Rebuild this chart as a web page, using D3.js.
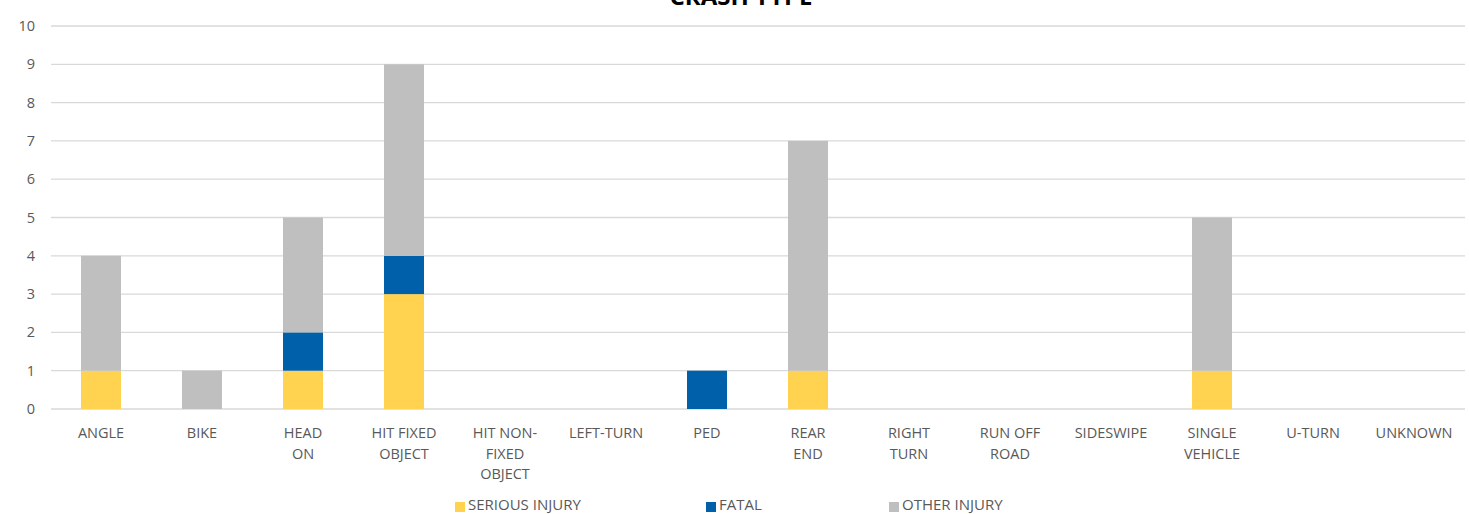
<!DOCTYPE html>
<html><head><meta charset="utf-8">
<script src="https://cdn.jsdelivr.net/npm/d3@7"></script>
<style>body{margin:0;background:#fff}svg{display:block}</style>
</head><body>
<script>
const categories = [["ANGLE"],["BIKE"],["HEAD","ON"],["HIT FIXED","OBJECT"],["HIT NON-","FIXED","OBJECT"],["LEFT-TURN"],["PED"],["REAR","END"],["RIGHT","TURN"],["RUN OFF","ROAD"],["SIDESWIPE"],["SINGLE","VEHICLE"],["U-TURN"],["UNKNOWN"]];
const seriousInjury = [1,0,1,3,0,0,0,1,0,0,0,1,0,0];
const fatal =         [0,0,1,1,0,0,1,0,0,0,0,0,0,0];
const otherInjury =   [3,1,3,5,0,0,0,6,0,0,0,4,0,0];
const seriesNames = ["SERIOUS INJURY","FATAL","OTHER INJURY"];
const colors = ["#FFD34F","#0061AA","#BFBFBF"];
const yTicks = [0,1,2,3,4,5,6,7,8,9,10];

const W=1469,H=514;
const svg=d3.select("body").append("svg").attr("width",W).attr("height",H);
const font="'Open Sans', 'Noto Sans', sans-serif";
const keys=categories.map(c=>c.join(" "));
const x=d3.scaleBand().domain(keys).range([50.5,1464.5]).paddingInner(0.604).paddingOuter(0.302);
const y=d3.scaleLinear().domain([0,10]).range([409,26]);

// grid
svg.append("g").selectAll("line").data(yTicks).join("line")
  .attr("x1",51).attr("x2",1465).attr("y1",d=>y(d)).attr("y2",d=>y(d))
  .attr("stroke","#D9D9D9").attr("stroke-width",1.3);
// y labels
svg.append("g").selectAll("text").data(yTicks).join("text")
  .attr("x",35).attr("y",d=>y(d)).attr("dy","0.35em").attr("text-anchor","end")
  .attr("font-family",font).attr("font-size",14.5).attr("fill","#595959").text(d=>d);

const table=keys.map((k,i)=>({key:k,s0:seriousInjury[i],s1:fatal[i],s2:otherInjury[i]}));
const stack=d3.stack().keys(["s0","s1","s2"])(table);
svg.append("g").selectAll("g").data(stack).join("g").attr("fill",(d,i)=>colors[i])
  .selectAll("rect").data(d=>d).join("rect")
  .attr("x",d=>x(d.data.key)).attr("width",x.bandwidth())
  .attr("y",d=>y(d[1])).attr("height",d=>y(d[0])-y(d[1]));

// x labels
const xl=svg.append("g").selectAll("text").data(categories).join("text")
  .attr("text-anchor","middle").attr("font-family",font).attr("font-size",14.5).attr("fill","#595959")
  .attr("transform",(d,i)=>`translate(${x(keys[i])+x.bandwidth()/2},438)`);
xl.selectAll("tspan").data(d=>d).join("tspan").attr("x",0).attr("y",(d,i)=>i*20.5).text(d=>d);

// title
svg.append("text").attr("x",741).attr("y",5).attr("text-anchor","middle")
  .attr("font-family",font).attr("font-weight","bold").attr("font-size",24).attr("fill","#000").text("CRASH TYPE");

// legend
const legX=[455,706,889];
const lg=svg.append("g").selectAll("g").data(seriesNames).join("g")
  .attr("transform",(d,i)=>`translate(${legX[i]},0)`);
lg.append("rect").attr("x",0).attr("y",502).attr("width",10).attr("height",10).attr("fill",(d,i)=>colors[i]);
lg.append("text").attr("x",13).attr("y",510).attr("font-family",font).attr("font-size",15).attr("fill","#595959").text(d=>d);
</script>
</body></html>
